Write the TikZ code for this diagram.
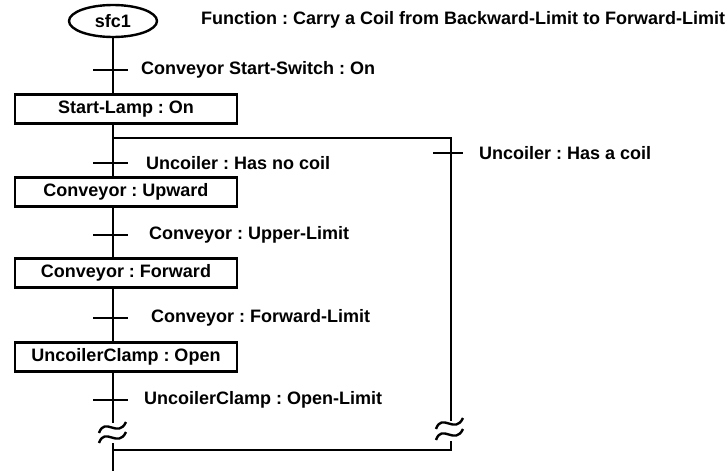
\documentclass[tikz,border=0pt]{standalone}
\usepackage{fontspec}
\setmainfont{Liberation Sans}
\usetikzlibrary{shapes.geometric}
\frenchspacing
\begin{document}
\begin{tikzpicture}[x=0.5pt, y=-0.5pt, line width=1.2pt,
        every node/.style={font=\fontsize{9}{11}\selectfont\bfseries, inner sep=0pt},
        stepbox/.style={draw, minimum width=111pt, minimum height=14.5pt},
        cond/.style={anchor=west}]
        \useasboundingbox (0,0) rectangle (728,471);

        \node[draw, ellipse, minimum width=44pt, minimum height=16pt] (init) at (113,21) {sfc1};
        \node[cond] (func) at (200,20) {Function : Carry a Coil from Backward-Limit to Forward-Limit};

        \node[stepbox] (s1) at (126,109) {Start-Lamp : On};
        \node[stepbox] (s2) at (126,192) {Conveyor : Upward};
        \node[stepbox] (s3) at (126,273) {Conveyor : Forward};
        \node[stepbox] (s4) at (126,357) {UncoilerClamp : Open};

        \coordinate (t1) at (113,70);
        \coordinate (t2) at (113,163);
        \coordinate (t3) at (113,235);
        \coordinate (t4) at (113,318);
        \coordinate (t5) at (113,400);
        \coordinate (t6) at (451,153);
        \node[cond] (c1) at (140,70) {Conveyor Start-Switch : On};
        \node[cond] (c2) at (145,163) {Uncoiler : Has no coil};
        \node[cond] (c3) at (148,235) {Conveyor : Upper-Limit};
        \node[cond] (c4) at (150,318) {Conveyor : Forward-Limit};
        \node[cond] (c5) at (143,400) {UncoilerClamp : Open-Limit};
        \node[cond] (c6) at (478,153) {Uncoiler : Has a coil};

        \coordinate (br) at (113,138);
        \coordinate (bc) at (451,138);
        \coordinate (rw1) at (451,421);
        \coordinate (rw2) at (451,441);
        \coordinate (rj) at (451,450);
        \coordinate (jn) at (113,450);
        \coordinate (lw1) at (113,423);
        \coordinate (lw2) at (113,443);
        \coordinate (fin) at (113,471);

        \draw (init) -- (init |- s1.north);
        \draw (s1.south -| init) -- (s2.north -| init);
        \draw (s2.south -| init) -- (s3.north -| init);
        \draw (s3.south -| init) -- (s4.north -| init);
        \draw (s4.south -| init) -- (lw1);
        \draw (lw2) -- (fin);
        \draw (br) -- (bc) -- (rw1);
        \draw (rw2) -- (rj) -- (jn);

        \foreach \t in {t1,t2,t3,t4,t5}
            \draw (\t) ++(-20,0) -- ++(35,0);
        \draw (t6) ++(-18,0) -- ++(30,0);

        \foreach \x/\y in {113/428, 113/438, 450/424, 450/435}
            \draw (\x,\y) ++(-14,5) .. controls +(6,-17) and +(-8,17) .. ++(27,-11);
    \end{tikzpicture}
\end{document}
